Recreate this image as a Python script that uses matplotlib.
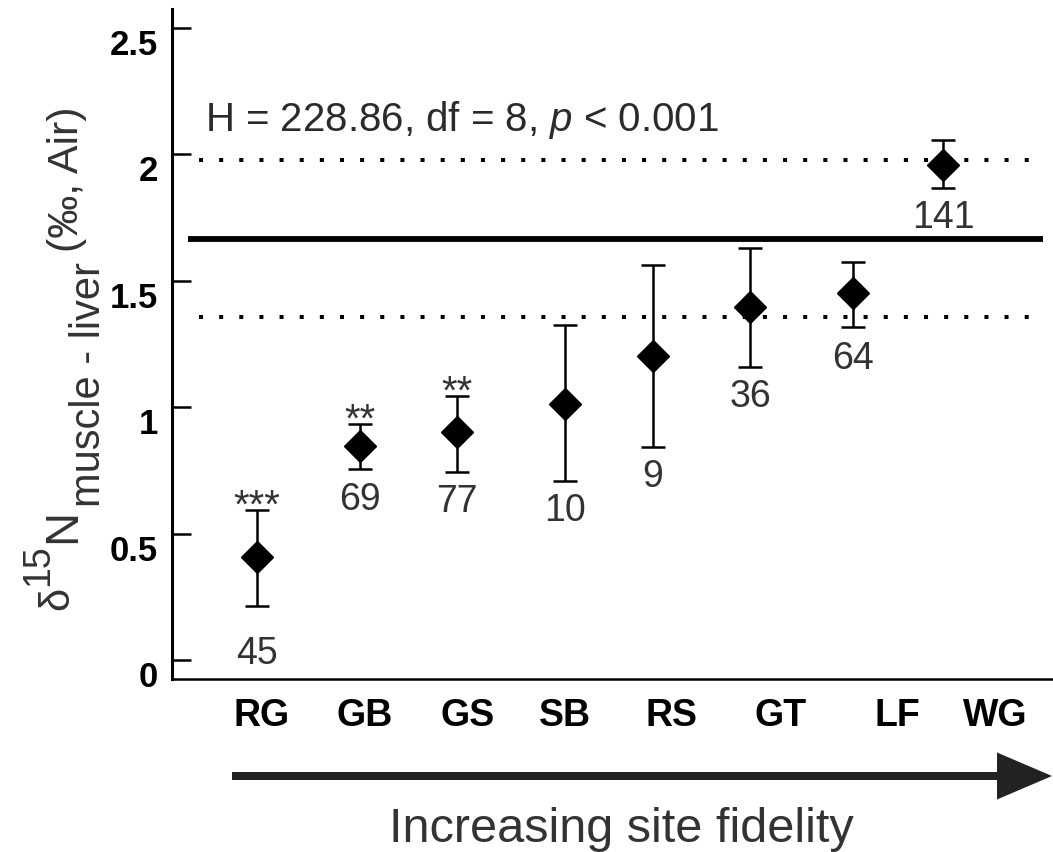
import matplotlib
matplotlib.use('Agg')
import matplotlib.pyplot as plt
from matplotlib.patches import FancyArrow

plt.rcParams['font.family'] = ['Liberation Sans', 'DejaVu Sans']
plt.rcParams['mathtext.fontset'] = 'custom'
plt.rcParams['mathtext.rm'] = 'Liberation Sans'
plt.rcParams['mathtext.it'] = 'Liberation Sans:italic'

# data
sites = ['RG', 'GB', 'GS', 'SB', 'RS', 'GT', 'LF', 'WG']
means = [0.407, 0.846, 0.902, 1.013, 1.203, 1.396, 1.452, 1.958]
upper = [0.593, 0.934, 1.044, 1.325, 1.563, 1.630, 1.574, 2.057]
lower = [0.214, 0.756, 0.744, 0.708, 0.843, 1.159, 1.317, 1.867]
n_fish = [45, 69, 77, 10, 9, 36, 64, 141]
signif = ['***', '**', '**', '', '', '', '', '']
overall_mean = 1.665
overall_hi = 1.978
overall_lo = 1.357
yticks = [0, 0.5, 1, 1.5, 2, 2.5]
stats_text = 'H = 228.86, df = 8, $p$ < 0.001'

# layout (points and labels are not evenly spaced in the original)
point_x = [0, 1.05, 2.04, 3.14, 4.04, 5.03, 6.08, 7.0]
label_x = [0.05, 1.10, 2.15, 3.14, 4.23, 5.34, 6.53, 7.53]
n_pad = [-21, -9, -8, -8, -8, -8, -9, -8]

W, H = 1053, 853
fig = plt.figure(figsize=(W / 100, H / 100), dpi=100)
ax = fig.add_axes([172 / W, (H - 680) / H, (W - 172) / W, 670 / H])
ax.set_xlim(-0.867, 8.122)
ax.set_ylim(-0.075, 2.575)

for s in ['top', 'right']:
    ax.spines[s].set_visible(False)
ax.spines['left'].set_linewidth(2.2)
ax.spines['bottom'].set_linewidth(1.8)

ax.set_yticks(yticks)
ax.set_yticklabels(['0', '0.5', '1', '1.5', '2', '2.5'])
ax.tick_params(axis='y', direction='in', length=14, width=1.8, pad=10,
               labelsize=25)
for lab in ax.get_yticklabels():
    lab.set_fontweight('bold')
    lab.set_verticalalignment('top')
ax.set_xticks([])

# reference lines
ax.hlines(overall_mean, -0.704, 8.02, color='black', lw=4.2)
ax.hlines([overall_hi, overall_lo], -0.59, 7.89, color='black', lw=2.9,
          linestyles=[(0, (1, 4))])

# means with error bars
yerr = [[m - lo for m, lo in zip(means, lower)],
        [hi - m for m, hi in zip(means, upper)]]
ax.errorbar(point_x, means, yerr=yerr, fmt='D', color='black', ms=16,
            ecolor='black', elinewidth=1.8, capsize=8.3, capthick=1.8, zorder=3)

for x, lo, hi, n, st, pad in zip(point_x, lower, upper, n_fish, signif, n_pad):
    ax.annotate(str(n), (x, lo), xytext=(0, pad), textcoords='offset points',
                ha='center', va='top', fontsize=27, color='#333333')
    if st:
        ax.annotate(st, (x, hi), xytext=(0, -5), textcoords='offset points',
                    ha='center', va='baseline', fontsize=29, color='#333333')

# category labels below the axis
for x, name in zip(label_x, sites):
    ax.text(x, -36 / 670, name, transform=ax.get_xaxis_transform(),
            ha='center', va='center', fontsize=27, fontweight='bold')

ax.text(205 / W, 1 - 131 / H, stats_text, transform=fig.transFigure,
        ha='left', va='baseline', fontsize=29, color='#2b2b2b')


def fy(px):
    return 1 - px / H


# y axis label built from pieces (rotated)
ylab = [('δ', 68, 610, 30), ('15', 48, 586, 27), ('N', 75, 543, 34),
        ('muscle - liver', 100, 507, 30), ('(‰, Air)', 78, 252, 31)]
for txt, bx, by, fs in ylab:
    fig.text(bx / W, fy(by), txt, rotation=90, rotation_mode='anchor',
             ha='left', va='baseline', fontsize=fs, color='#333333')

# arrow of increasing site fidelity
arr = FancyArrow(232 / W, fy(777), (1052 - 232) / W, 0,
                 width=8 / H, head_width=47 / H, head_length=55 / W,
                 length_includes_head=True, transform=fig.transFigure,
                 color='#222222', lw=0)
fig.add_artist(arr)
fig.text(621 / W, fy(842), 'Increasing site fidelity', ha='center',
         va='baseline', fontsize=35, color='#333333')

fig.savefig('out.png', dpi=100)
